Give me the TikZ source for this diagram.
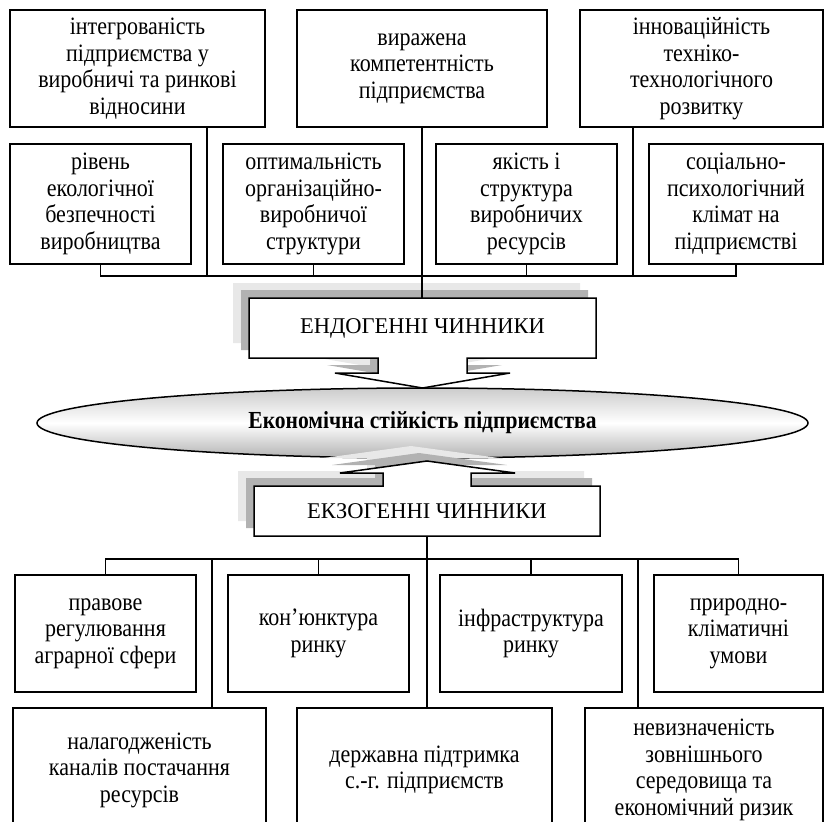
\documentclass[tikz,border=0pt]{standalone}
\usepackage{fontspec}
\setmainfont{Liberation Serif}
\newfontfamily\boxfont{Liberation Serif}[FakeStretch=0.88]
\usetikzlibrary{shapes.geometric,calc}

\begin{document}
\begin{tikzpicture}[x=1pt,y=-1pt,line width=1.5pt,
  box/.style={draw,fill=white,align=center,inner sep=0pt,
    font=\boxfont\fontsize{25}{26.5}\selectfont},
  shadowA/.style={fill=black!9,draw=none},
  shadowB/.style={fill=black!30,draw=none}]
\useasboundingbox (0,0) rectangle (825,822);
\clip (0,0) rectangle (825,822);

\node[box,minimum width=255,minimum height=117] (A) at (137.5,68.5)
  {інтегрованість\\підприємства у\\виробничі та ринкові\\відносини};
\node[box,minimum width=250,minimum height=117] (B) at (422,68.5)
  {виражена\\компетентність\\підприємства};
\node[box,minimum width=243,minimum height=117] (C) at (701.5,68.5)
  {інноваційність\\техніко-\\технологічного\\розвитку};

\node[box,minimum width=181,minimum height=120] (D) at (100.5,204)
  {рівень\\екологічної\\безпечності\\виробництва};
\node[box,minimum width=181,minimum height=120] (E) at (313.5,204)
  {оптимальність\\організаційно-\\виробничої\\структури};
\node[box,minimum width=181,minimum height=120] (F) at (526.5,204)
  {якість і\\структура\\виробничих\\ресурсів};
\node[box,minimum width=174,minimum height=120] (G) at (736,204)
  {соціально-\\психологічний\\клімат на\\підприємстві};

\coordinate (bt) at (0,276);
\coordinate (gDE) at ($(D.east)!.5!(E.west)$);
\coordinate (gFG) at ($(F.east)!.5!(G.west)$);
\draw (D.south) -- (D.south |- bt) -- (G.south |- bt) -- (G.south);
\draw (E.south) -- (E.south |- bt);
\draw (F.south) -- (F.south |- bt);
\draw (gDE |- A.south) -- (gDE |- bt);
\draw (gFG |- C.south) -- (gFG |- bt);

\def\endopath{(249,298) -- (596,298) -- (596,358) -- (467,358) -- (467,373)
  -- (510,373) -- (422.5,388) -- (335,373) -- (378,373) -- (378,358)
  -- (249,358) -- cycle}
\fill[shadowA,shift={(-16,-15)}] \endopath;
\fill[shadowB,shift={(-8,-8)}] \endopath;
\draw[fill=white] \endopath;
\node[font=\fontsize{22.5}{26}\selectfont] (endo) at (422.5,328) {ЕНДОГЕННІ ЧИННИКИ};
\draw (B.south) -- (B.south |- 0,298);

\node[ellipse,draw,minimum width=771,minimum height=70,inner sep=0pt,
  top color=black!20,bottom color=black!30,middle color=white,
  font=\boxfont\fontsize{24.5}{28}\selectfont\bfseries] (core) at (422.5,423)
  {Економічна стійкість підприємства};

\def\exopath{(254,486) -- (383,486) -- (383,473) -- (340,473) -- (427,461)
  -- (515,473) -- (471,473) -- (471,486) -- (600,486) -- (600,536)
  -- (254,536) -- cycle}
\fill[shadowA,shift={(-16,-15)}] \exopath;
\fill[shadowB,shift={(-8,-8)}] \exopath;
\draw[fill=white] \exopath;
\node[font=\fontsize{22.5}{26}\selectfont] (exo) at (427,511) {ЕКЗОГЕННІ ЧИННИКИ};

\node[box,minimum width=181,minimum height=117] (H) at (105.5,633.5)
  {правове\\регулювання\\аграрної сфери};
\node[box,minimum width=181,minimum height=117] (I) at (318.5,633.5)
  {кон’юнктура\\ринку};
\node[box,minimum width=182,minimum height=117] (J) at (531,633.5)
  {інфраструктура\\ринку};
\node[box,minimum width=169,minimum height=117] (K) at (738.5,633.5)
  {природно-\\кліматичні\\умови};

\node[box,minimum width=253,minimum height=124] (L) at (139.5,770)
  {налагодженість\\каналів постачання\\ресурсів};
\node[box,minimum width=255,minimum height=124] (M) at (424.5,770)
  {державна підтримка\\с.-г. підприємств};
\node[box,minimum width=238,minimum height=124] (N) at (704,770)
  {невизначеність\\зовнішнього\\середовища та\\економічний ризик};

\coordinate (bb) at (0,559);
\coordinate (gHI) at ($(H.east)!.5!(I.west)$);
\coordinate (gJK) at ($(J.east)!.5!(K.west)$);
\draw (427,536) -- (427,0 |- M.north);
\draw (H.north) -- (H.north |- bb) -- (K.north |- bb) -- (K.north);
\draw (I.north) -- (I.north |- bb);
\draw (J.north) -- (J.north |- bb);
\draw (gHI |- bb) -- (gHI |- L.north);
\draw (gJK |- bb) -- (gJK |- N.north);
\end{tikzpicture}
\end{document}
